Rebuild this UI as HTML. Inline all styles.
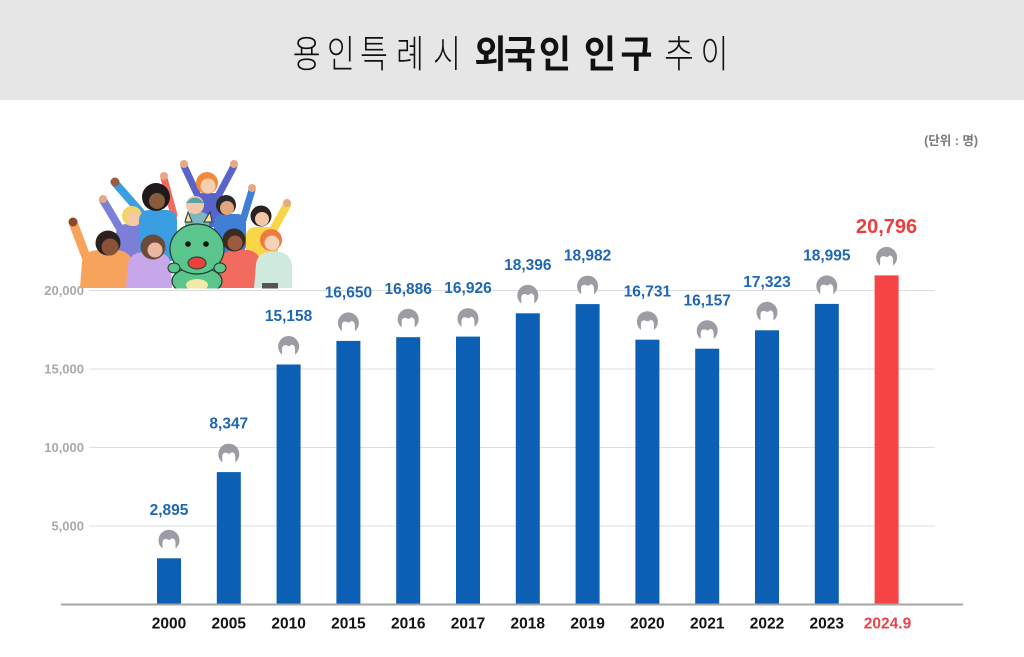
<!DOCTYPE html>
<html>
<head>
<meta charset="utf-8">
<style>
html,body{margin:0;padding:0;background:#fff;}
svg{display:block;}
</style>
</head>
<body>
<svg width="1024" height="657" viewBox="0 0 1024 657" xmlns="http://www.w3.org/2000/svg">
<defs>
  <g id="head">
    <circle cx="0" cy="0" r="10.5" fill="#9c9da4"/>
    <path d="M-6.5 12 L-6.5 2.5 Q-6.5 -2 -2 -1.2 Q1 0.8 3 -2 Q6.5 -1.5 6.5 3 L6.5 12 Z" fill="#ffffff"/>
  </g>
  <clipPath id="illc"><rect x="60" y="140" width="240" height="148.5"/></clipPath>
</defs>

<!-- title band -->
<rect x="0" y="0" width="1024" height="100" fill="#e6e6e6"/>
<g font-family="'Liberation Sans','Noto Sans CJK KR',sans-serif" font-size="38" fill="#111" text-anchor="middle">
  <g font-weight="300">
    <g transform="translate(306.7 0) scale(0.8 1)"><text x="0" y="67.5">용</text></g>
    <g transform="translate(340.8 0) scale(0.8 1)"><text x="0" y="67.5">인</text></g>
    <g transform="translate(374 0) scale(0.8 1)"><text x="0" y="67.5">특</text></g>
    <g transform="translate(410 0) scale(0.8 1)"><text x="0" y="67.5">례</text></g>
    <g transform="translate(447 0) scale(0.8 1)"><text x="0" y="67.5">시</text></g>
    <g transform="translate(679 0) scale(0.85 1)"><text x="0" y="67.5">추</text></g>
    <g transform="translate(714.5 0) scale(0.8 1)"><text x="0" y="67.5">이</text></g>
  </g>
  <g font-weight="700">
    <g transform="translate(490.5 0) scale(0.92 1)"><text x="0" y="67.5">외</text></g>
    <g transform="translate(520 0) scale(0.92 1)"><text x="0" y="67.5">국</text></g>
    <g transform="translate(555 0) scale(0.92 1)"><text x="0" y="67.5">인</text></g>
    <g transform="translate(600 0) scale(0.92 1)"><text x="0" y="67.5">인</text></g>
    <g transform="translate(636.5 0) scale(0.92 1)"><text x="0" y="67.5">구</text></g>
  </g>
</g>

<!-- unit -->
<text x="978" y="145" text-anchor="end" font-family="'Liberation Sans','Noto Sans CJK KR',sans-serif" font-size="12.5" font-weight="700" fill="#7a7a7a">(단위 : 명)</text>

<!-- gridlines -->
<g stroke="#dedede" stroke-width="1">
  <line x1="89" y1="290.5" x2="935" y2="290.5"/>
  <line x1="89" y1="369" x2="935" y2="369"/>
  <line x1="89" y1="447.5" x2="935" y2="447.5"/>
  <line x1="89" y1="526" x2="935" y2="526"/>
</g>
<g font-family="'Liberation Sans',sans-serif" font-size="13" font-weight="700" fill="#a9a9a9" text-anchor="end">
  <text x="84" y="295">20,000</text>
  <text x="84" y="373.5">15,000</text>
  <text x="84" y="452">10,000</text>
  <text x="84" y="530.5">5,000</text>
</g>

<!-- illustration -->
<g clip-path="url(#illc)">
  <g stroke-linecap="round" fill="none">
    <line x1="88" y1="262" x2="74" y2="225" stroke="#f7a35c" stroke-width="9"/>
    <line x1="122" y1="232" x2="103" y2="200" stroke="#7c7fd8" stroke-width="8"/>
    <line x1="145" y1="217" x2="116" y2="184" stroke="#3b9de2" stroke-width="8"/>
    <line x1="199" y1="198" x2="184" y2="166" stroke="#5a63c9" stroke-width="7"/>
    <line x1="217" y1="198" x2="234" y2="166" stroke="#5a63c9" stroke-width="7"/>
    <line x1="174" y1="215" x2="164" y2="178" stroke="#f26b5e" stroke-width="7"/>
    <line x1="243" y1="220" x2="252" y2="190" stroke="#3f7fd6" stroke-width="7"/>
    <line x1="272" y1="232" x2="287" y2="205" stroke="#f9d648" stroke-width="8"/>
  </g>
  <g fill="#e7a982">
    <circle cx="73" cy="222" r="4.5" fill="#8a4a2a"/>
    <circle cx="103" cy="199" r="4"/>
    <circle cx="115" cy="182" r="4.5" fill="#9a5b3e"/>
    <circle cx="184" cy="164" r="4"/>
    <circle cx="234" cy="164" r="4"/>
    <circle cx="164" cy="176" r="4"/>
    <circle cx="252" cy="188" r="4"/>
    <circle cx="287" cy="203" r="4"/>
  </g>
  <rect x="195" y="193" width="28" height="34" rx="8" fill="#5a63c9"/>
  <circle cx="207" cy="183" r="11" fill="#f08a3c"/>
  <circle cx="208" cy="186" r="7.5" fill="#f6cfb0"/>
  <rect x="116" y="224" width="32" height="44" rx="10" fill="#7c7fd8"/>
  <circle cx="132" cy="216" r="10" fill="#f3d36b"/>
  <circle cx="134" cy="219" r="7" fill="#f5c9a4"/>
  <rect x="139" y="210" width="38" height="52" rx="10" fill="#3b9de2"/>
  <circle cx="156" cy="197" r="14" fill="#1f1a1a"/>
  <circle cx="157" cy="201" r="8" fill="#8a5a3c"/>
  <rect x="185" y="212" width="24" height="30" rx="8" fill="#7fb7c0"/>
  <circle cx="195" cy="205" r="9" fill="#f1c7a6"/>
  <path d="M186 203 Q195 192 204 203 Z" fill="#5aa0a8"/>
  <rect x="214" y="214" width="32" height="40" rx="9" fill="#3f7fd6"/>
  <circle cx="226" cy="205" r="10" fill="#2a2a2a"/>
  <circle cx="227" cy="208" r="7" fill="#e2a57c"/>
  <rect x="246" y="227" width="32" height="34" rx="9" fill="#f9d648"/>
  <circle cx="261" cy="216" r="10.5" fill="#2a2220"/>
  <circle cx="262" cy="219" r="7" fill="#f1c7a6"/>
  <path d="M80 288 L82 262 Q84 250 100 250 L118 250 Q132 252 134 266 L136 288 Z" fill="#f7a35c"/>
  <circle cx="108" cy="243" r="12.5" fill="#2b2220"/>
  <circle cx="110" cy="247" r="8.5" fill="#8a5236"/>
  <path d="M126 288 L128 264 Q130 252 145 252 L158 252 Q170 254 171 266 L172 288 Z" fill="#c7a6ea"/>
  <circle cx="153" cy="247" r="12.5" fill="#6b4a3a"/>
  <circle cx="155" cy="250" r="7.5" fill="#e8b9a0"/>
  <path d="M218 288 L220 262 Q222 250 236 250 L248 250 Q260 252 261 264 L262 288 Z" fill="#f26b5e"/>
  <circle cx="234" cy="240" r="11.5" fill="#3a2a22"/>
  <circle cx="235" cy="243" r="7.5" fill="#9a5b3e"/>
  <path d="M254 288 L256 264 Q258 252 270 252 L280 252 Q291 254 292 266 L292 288 Z" fill="#cfe9dd"/>
  <circle cx="271" cy="240" r="11" fill="#f07a3e"/>
  <circle cx="272" cy="243" r="7.5" fill="#f6d2b8"/>
  <rect x="262" y="283" width="16" height="6" fill="#555"/>
  <path d="M185 222 L188 212 L192 222 Z" fill="#f3e4a0" stroke="#2a3a2a" stroke-width="1"/>
  <path d="M204 222 L210 212 L212 222 Z" fill="#f3e4a0" stroke="#2a3a2a" stroke-width="1"/>
  <ellipse cx="197" cy="281" rx="25" ry="14" fill="#5bc58e" stroke="#1d3b2a" stroke-width="1.2"/>
  <ellipse cx="197" cy="249" rx="27" ry="25" fill="#5bc58e" stroke="#1d3b2a" stroke-width="1.2"/>
  <ellipse cx="197" cy="285" rx="11" ry="6" fill="#f2e9a8"/>
  <circle cx="188" cy="244" r="2.8" fill="#111"/>
  <circle cx="206" cy="244" r="2.8" fill="#111"/>
  <ellipse cx="197" cy="263" rx="9" ry="6" fill="#e8423c" stroke="#1d3b2a" stroke-width="1"/>
  <ellipse cx="174" cy="268" rx="6" ry="5" fill="#5bc58e" stroke="#1d3b2a" stroke-width="1"/>
  <ellipse cx="220" cy="268" rx="6" ry="5" fill="#5bc58e" stroke="#1d3b2a" stroke-width="1"/>
</g>

<!-- bars -->
<g fill="#0b5fb4">
  <rect x="157" y="558.3" width="24" height="45.7"/>
  <rect x="216.8" y="472.1" width="24" height="131.9"/>
  <rect x="276.6" y="364.5" width="24" height="239.5"/>
  <rect x="336.4" y="340.9" width="24" height="263.1"/>
  <rect x="396.2" y="337.2" width="24" height="266.8"/>
  <rect x="456" y="336.6" width="24" height="267.4"/>
  <rect x="515.8" y="313.3" width="24" height="290.7"/>
  <rect x="575.6" y="304.1" width="24" height="299.9"/>
  <rect x="635.4" y="339.7" width="24" height="264.3"/>
  <rect x="695.2" y="348.7" width="24" height="255.3"/>
  <rect x="755" y="330.3" width="24" height="273.7"/>
  <rect x="814.8" y="303.9" width="24" height="300.1"/>
</g>
<rect x="874.6" y="275.4" width="24" height="328.6" fill="#f64343"/>

<!-- baseline -->
<line x1="61" y1="604.5" x2="963" y2="604.5" stroke="#a6a6a6" stroke-width="2"/>

<!-- head icons -->
<use href="#head" x="169" y="540.3"/>
<use href="#head" x="228.8" y="454.1"/>
<use href="#head" x="288.6" y="346.5"/>
<use href="#head" x="348.4" y="322.9"/>
<use href="#head" x="408.2" y="319.2"/>
<use href="#head" x="468" y="318.6"/>
<use href="#head" x="527.8" y="295.3"/>
<use href="#head" x="587.6" y="286.1"/>
<use href="#head" x="647.4" y="321.7"/>
<use href="#head" x="707.2" y="330.7"/>
<use href="#head" x="767" y="312.3"/>
<use href="#head" x="826.8" y="285.9"/>
<use href="#head" x="886.6" y="257.4"/>

<!-- value labels -->
<g font-family="'Liberation Sans',sans-serif" font-size="15.5" font-weight="700" fill="#1f66b3" text-anchor="middle">
  <text x="169" y="514.9">2,895</text>
  <text x="228.8" y="428.7">8,347</text>
  <text x="288.6" y="321.1">15,158</text>
  <text x="348.4" y="297.5">16,650</text>
  <text x="408.2" y="293.8">16,886</text>
  <text x="468" y="293.2">16,926</text>
  <text x="527.8" y="269.9">18,396</text>
  <text x="587.6" y="260.7">18,982</text>
  <text x="647.4" y="296.3">16,731</text>
  <text x="707.2" y="305.3">16,157</text>
  <text x="767" y="286.9">17,323</text>
  <text x="826.8" y="260.5">18,995</text>
</g>
<text x="886.6" y="233" font-family="'Liberation Sans',sans-serif" font-size="20" font-weight="700" fill="#ee3d3d" text-anchor="middle">20,796</text>

<!-- x labels -->
<g font-family="'Liberation Sans',sans-serif" font-size="15.5" font-weight="700" fill="#141414" text-anchor="middle">
  <text x="169" y="628.4">2000</text>
  <text x="228.8" y="628.4">2005</text>
  <text x="288.6" y="628.4">2010</text>
  <text x="348.4" y="628.4">2015</text>
  <text x="408.2" y="628.4">2016</text>
  <text x="468" y="628.4">2017</text>
  <text x="527.8" y="628.4">2018</text>
  <text x="587.6" y="628.4">2019</text>
  <text x="647.4" y="628.4">2020</text>
  <text x="707.2" y="628.4">2021</text>
  <text x="767" y="628.4">2022</text>
  <text x="826.8" y="628.4">2023</text>
  <text x="887.5" y="628.4" fill="#e8434a">2024.9</text>
</g>
</svg>
</body>
</html>
